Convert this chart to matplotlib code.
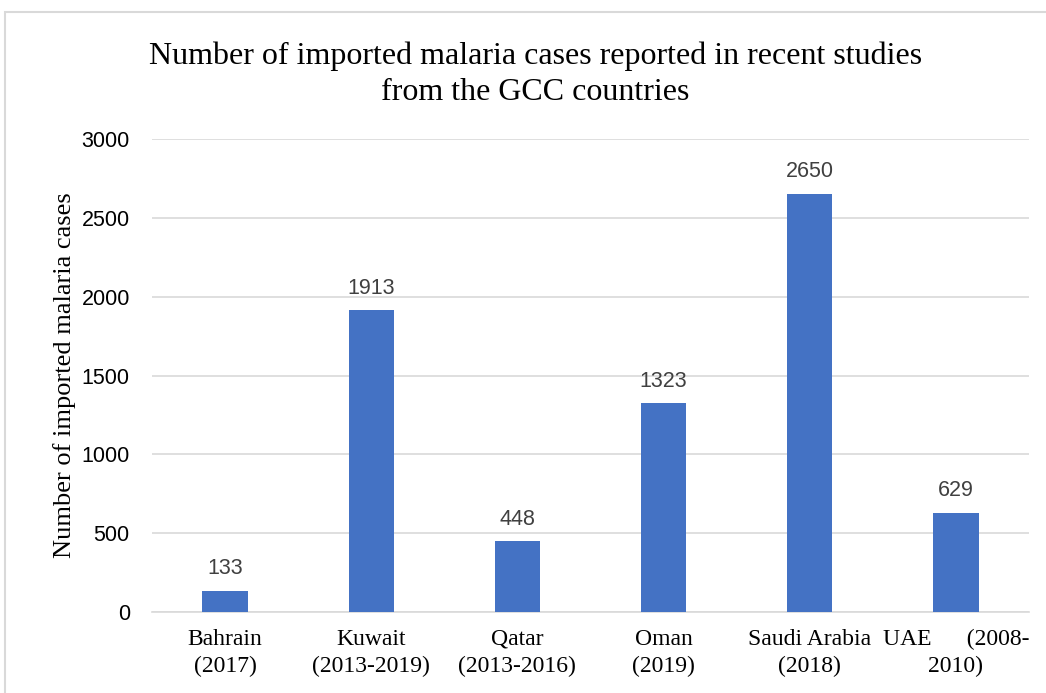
import matplotlib
matplotlib.use("Agg")
import matplotlib.pyplot as plt
from matplotlib.patches import Rectangle

categories = ["Bahrain\n(2017)", "Kuwait\n(2013-2019)", "Qatar\n(2013-2016)",
              "Oman\n(2019)", "Saudi Arabia\n(2018)", "UAE      (2008-\n2010)"]
cases = [133, 1913, 448, 1323, 2650, 629]
yticks = [0, 500, 1000, 1500, 2000, 2500, 3000]

BAR = "#4472C4"
GRID = "#d9d9d9"
SERIF = "Liberation Serif"
SANS = "Liberation Sans"

fig = plt.figure(figsize=(10.46, 6.93), dpi=100)
ax = fig.add_axes([0.1453, 0.1169, 0.8384, 0.6825])

x = range(len(cases))
ax.bar(x, cases, width=0.31, color=BAR, zorder=3)
for xi, v in zip(x, cases):
    ax.text(xi, v + 75, str(v), ha="center", va="bottom", fontsize=15.5,
            family=SANS, color="#404040")

ax.set_xlim(-0.5, len(cases) - 0.5)
ax.set_ylim(0, 3000)
ax.set_yticks(yticks)
ax.set_yticklabels([str(t) for t in yticks], family=SANS, fontsize=15.5)
ax.set_xticks(list(x))
ax.set_xticklabels(categories, family=SERIF, fontsize=17, linespacing=1.4)
ax.tick_params(axis="x", length=0, pad=12)
ax.tick_params(axis="y", length=0, pad=16)
ax.grid(axis="y", color=GRID, lw=1.2, zorder=0)
for s in ["top", "right", "left"]:
    ax.spines[s].set_visible(False)
ax.spines["bottom"].set_color(GRID)
ax.spines["bottom"].set_linewidth(1.2)

ax.set_ylabel("Number of imported malaria cases", family=SERIF, fontsize=19, labelpad=4)
fig.text(0.512, 0.893, "Number of imported malaria cases reported in recent studies\nfrom the GCC countries",
         ha="center", va="center", family=SERIF, fontsize=23, linespacing=1.3)

fig.patches.append(Rectangle((5 / 1046, -0.05), 1.1, 1.05 - 12 / 693,
                             transform=fig.transFigure, fill=False,
                             edgecolor="#d9d9d9", lw=1.5))

fig.savefig("out.png", dpi=100)
